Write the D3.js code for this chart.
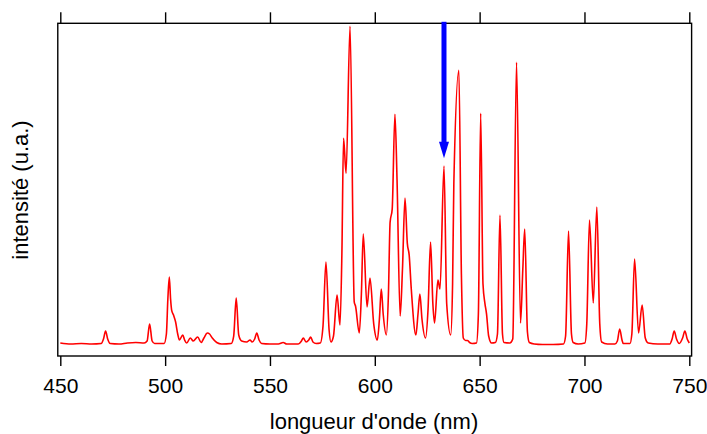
<!DOCTYPE html>
<html>
<head>
<meta charset="utf-8">
<script src="https://cdn.jsdelivr.net/npm/d3@7"></script>
<style>
  html, body { margin: 0; padding: 0; background: #fff; }
  svg { display: block; }
  text { font-family: "Liberation Sans", Arial, Helvetica, sans-serif; fill: #000; }
</style>
</head>
<body>
<svg id="chart" width="707" height="434"></svg>
<script>
// ---- data ----
const wavelengths = [
  450, 455, 460, 465, 469.5, 470.6, 471.6, 472.6, 473.8, 478, 482, 486, 490,
  491.4, 492.6, 493.8, 495, 499.5, 500.6, 501.3, 502.0, 502.6, 503.1, 504.0, 505.0, 506.0, 506.8,
  508.4, 509.3, 510.3, 512.0, 513.4, 515.5, 517.2, 518.5, 520.1, 521.2, 522.5, 524.6, 527,
  531.5, 532.7, 533.9, 535.1, 536.5, 538.9, 540.5, 541.5, 542.7, 543.7, 544.8, 546, 550, 554,
  556.3, 558, 563.5, 565.0, 565.9, 567.2, 568.5, 569.4, 570.5, 572, 574.0,
  575.3, 576.7, 578.2, 579.1, 580.3, 582.0, 583.4, 584.3, 585.1, 586.3, 588.2, 590.2, 590.8,
  592.6, 593.6, 594.5, 596.3, 597.7, 599.5, 601.2, 602.2, 603.1, 604.0, 605.5, 606.5, 607.3,
  608.3, 609.6, 610.6, 612.1, 613.2, 614.4, 615.5, 616.4, 617.4, 619.6, 620.6, 621.5, 622.5,
  624.2, 625.4, 626.6, 627.7, 628.5, 630.1, 631.1, 633.0, 634.3, 636.2, 637.1, 637.7, 640.1,
  641.3, 642.2, 643.3, 644.2, 645.2, 646.5, 648.5, 649.4, 650.5, 651.6, 652.5, 653.3, 654.3,
  655.7, 657.5, 658.5, 659.7, 660.9, 661.6, 664.4, 665.8, 667.6, 669.5, 670.6, 671.5, 672.8,
  673.7, 676, 680, 685, 690.0, 691.0, 692.4, 693.8, 694.6, 697, 700.2, 701.1, 702.4, 704.2,
  705.9, 707.3, 708.2, 711, 714.5, 715.7, 716.8, 717.9, 718.5, 721.7, 722.6, 723.9, 725.8,
  727.5, 729.0, 730.4, 735, 740.7, 741.8, 742.8, 743.9, 745.2, 746.8, 747.9, 749.0, 750.0
];
const intensities = [
  1, 0, 0.5, 0, 0.5, 5, 13, 5, 0.5, 0, 1, 1.5, 1,
  3, 20, 3, 0.5, 0.5, 10, 45, 67, 45, 34, 29, 22, 10, 4,
  9, 4, 1, 6, 3, 7, 1.5, 6, 11, 10, 6, 1.5, 0,
  0.5, 8, 46, 9, 3, 2, 4, 2, 5, 11, 4, 0.5, 0, 0,
  1.5, 0, 0, 3, 6, 2, 4, 7, 2, 0.5, 1,
  18, 82, 14, 2, 8, 49, 19, 90, 206, 171, 318, 42, 38,
  11, 50, 110, 37, 66, 20, 4, 25, 55, 30, 9, 50, 122,
  135, 230, 165, 28, 75, 146, 101, 89, 55, 9, 30, 50, 25,
  6, 35, 102, 40, 21, 64, 55, 178, 40, 9, 60, 161, 274,
  70, 6, 3.5, 3.5, 1.5, 0.5, 1, 30, 231, 60, 41, 30, 8,
  1, 1.5, 10, 129, 10, 1.5, 1, 5, 282, 21, 75, 115, 12,
  1.5, 0, -0.5, -0.5, 0, 8, 113, 10, 1.5, 0, 1, 20, 124, 41,
  137, 20, 2, 0, 0, 3, 15, 4, 0.5, 0.5, 10, 85, 11,
  39, 6, 1, 0, 0, 5, 13, 5, 0.5, 6, 13, 5, 1
];
const xTicks = [450, 500, 550, 600, 650, 700, 750];
const xTickLabels = ["450", "500", "550", "600", "650", "700", "750"];
const arrowWavelength = 633;
const arrowTipIntensity = 186;
const xTitle = "longueur d'onde (nm)";
const yTitle = "intensité (u.a.)";

// ---- scales ----
const x = d3.scaleLinear().domain([450, 750]).range([60.3, 689.3]);
const y = d3.scaleLinear().domain([-12, 321]).range([356, 23.3]);

const svg = d3.select("#chart");
const spectrum = wavelengths.map((w, i) => [w, intensities[i]]);

// plot frame
const x0 = x(448.8), x1 = x(751.1), yTop = y.range()[1], yBot = y.range()[0];

// spectrum line
const line = d3.line()
  .x(d => x(d[0]))
  .y(d => y(d[1]))
  .curve(d3.curveMonotoneX);

svg.append("path")
  .datum(spectrum)
  .attr("fill", "none")
  .attr("stroke", "#ff0000")
  .attr("stroke-width", 1.6)
  .attr("stroke-linejoin", "round")
  .attr("d", line);

svg.append("rect")
  .attr("x", x0).attr("y", yTop)
  .attr("width", x1 - x0).attr("height", yBot - yTop)
  .attr("fill", "none").attr("stroke", "#000").attr("stroke-width", 1.4);

// bottom axis
const gB = svg.append("g").attr("transform", `translate(0,${yBot})`)
  .call(d3.axisBottom(x).tickValues(xTicks).tickFormat((d, i) => xTickLabels[i]).tickSize(10).tickPadding(12));
gB.select(".domain").remove();
gB.selectAll(".tick line").attr("stroke", "#000").attr("stroke-width", 1.4);
gB.selectAll(".tick text")
  .attr("font-size", 21)
  .attr("font-family", "'Liberation Sans', Arial, Helvetica, sans-serif")
  .attr("fill", "#000");

// top axis (ticks only)
const gT = svg.append("g").attr("transform", `translate(0,${yTop})`)
  .call(d3.axisTop(x).tickValues(xTicks).tickFormat("").tickSize(11));
gT.select(".domain").remove();
gT.selectAll(".tick line").attr("stroke", "#000").attr("stroke-width", 1.4);

// axis titles
svg.append("text")
  .attr("x", 374).attr("y", 428.5)
  .attr("text-anchor", "middle")
  .attr("font-size", 22)
  .text(xTitle);

svg.append("text")
  .attr("transform", "translate(28,190) rotate(-90)")
  .attr("text-anchor", "middle")
  .attr("font-size", 22)
  .text(yTitle);

// blue arrow
const ax = x(arrowWavelength);
const tipY = y(arrowTipIntensity);
const headLen = 16.5, headW = 10, shaftW = 5;
svg.append("rect")
  .attr("x", ax - shaftW / 2).attr("y", yTop - 1.5)
  .attr("width", shaftW).attr("height", tipY - headLen - yTop + 2.5)
  .attr("fill", "#0000ff");
svg.append("path")
  .attr("d", `M${ax - headW / 2},${tipY - headLen} L${ax + headW / 2},${tipY - headLen} L${ax},${tipY} Z`)
  .attr("fill", "#0000ff");
</script>
</body>
</html>
